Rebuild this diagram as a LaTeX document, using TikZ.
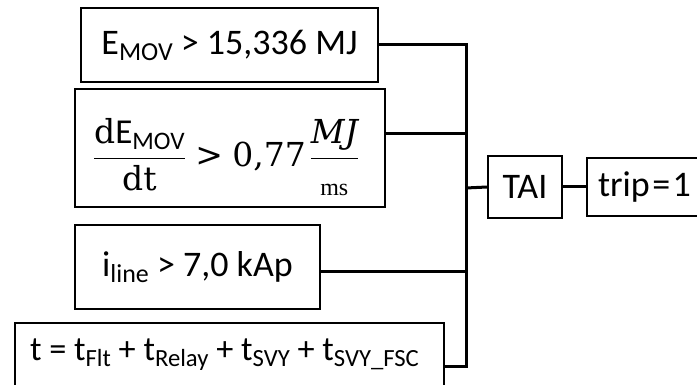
\RequirePackage{fix-cm}
\documentclass[tikz,border=0pt]{standalone}
\usepackage[no-math]{fontspec}
\setmainfont{Carlito}
\newfontfamily\dvs{DejaVu Serif}
\newfontfamily\lsr{Liberation Serif}
\newcommand\lsub[1]{\raisebox{-0.17em}{\scalebox{0.72}{#1}}}
\newcommand\bigtxt{\fontsize{36}{42}\selectfont}
\newcommand\mathtxt{\fontsize{34}{40}\selectfont}
\newcommand\sr[1]{\mbox{\fontsize{33}{38}\dvs #1}}
\begin{document}
\begin{tikzpicture}[x=1pt,y=-1pt,
  box/.style={draw, line width=2pt, inner sep=0pt, font=\bigtxt},
  conn/.style={line width=3pt, line join=miter}]
\useasboundingbox (0,0) rectangle (697,385);
\clip (0,0) rectangle (697,385);
\node[box, minimum width=297pt, minimum height=74pt] (b1) at (229.5,45) {E\lsub{MOV} > 15,336 MJ};
\node[box, minimum width=310pt, minimum height=118pt] (b2) at (230,148) {};
\node[inner sep=0pt, font=\mathtxt] (b2t) at (226,157)
  {$\displaystyle\frac{\sr{d}\mbox{\fontsize{35}{40}\selectfont E\lsub{MOV}}}{\sr{dt}}\mathrel{\sr{>}}\sr{0,77}\mkern2mu\frac{\sr{\itshape MJ}}{\raisebox{-5pt}{\fontsize{24}{28}\lsr ms}}$};
\node[box, minimum width=245pt, minimum height=84pt] (b3) at (197.5,267) {i\lsub{line} > 7,0 kAp};
\node[box, minimum width=429pt, minimum height=64pt, anchor=north west, font=\fontsize{34.3}{42}\selectfont] (b4) at (14,322)
  {t = t\lsub{Flt} + t\lsub{Relay} + t\lsub{SVY} + t\lsub{SVY\_FSC}\hspace*{10pt}};
\node[box, minimum width=74pt, minimum height=62pt] (tai) at (525,187) {TAI};
\node[box, anchor=west, minimum height=58pt, text width=130pt, inner xsep=11pt, align=left] (trip) at (586,187) {trip\kern2.5pt=\kern2.5pt1};
\coordinate (bt) at (466,45);
\coordinate (bb) at (466,366);
\coordinate (j2) at (466,134);
\coordinate (j3) at (466,272);
\coordinate (jt) at (466,188);
\draw[conn] (b1.east |- bt) -- (bt) -- (bb) -- (b4.east |- bb);
\draw[conn] (b2.east |- j2) -- (j2);
\draw[conn] (b3.east |- j3) -- (j3);
\draw[conn] (jt) -- (tai.west);
\draw[conn] (tai.east) -- (trip.west);
\end{tikzpicture}
\end{document}
